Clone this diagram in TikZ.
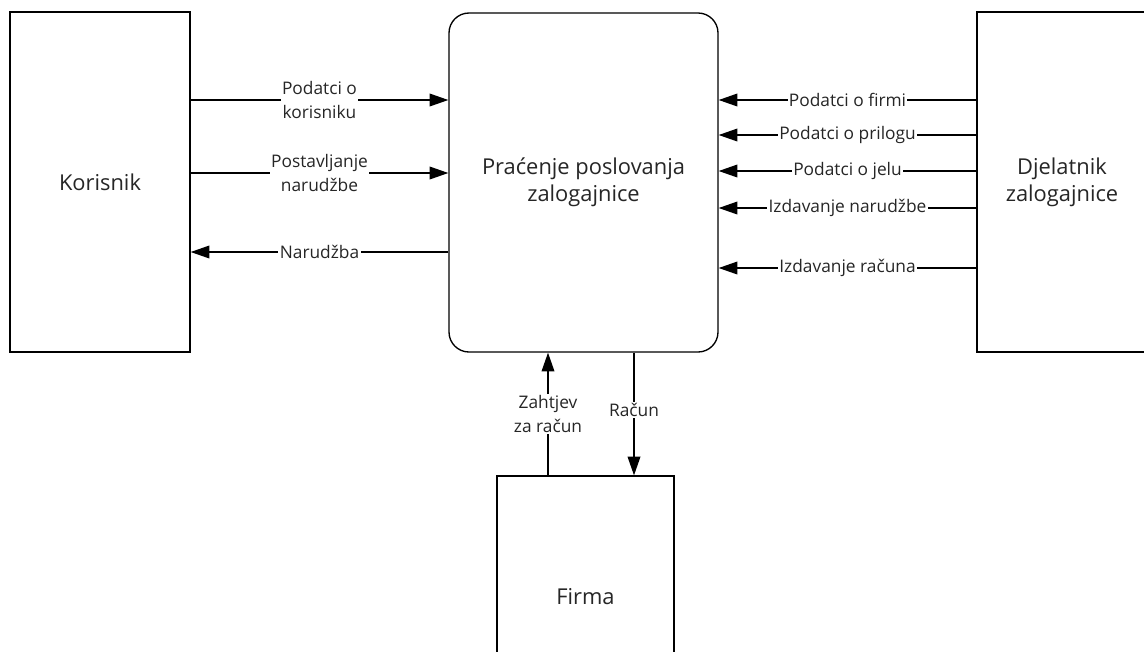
\documentclass[tikz,border=0pt]{standalone}
\usepackage{fontspec}
\setmainfont{Open Sans}
\usetikzlibrary{arrows.meta,positioning}

\tikzset{
  blok/.style={draw, line width=1pt, fill=white, align=center, text=black!85,
    font=\fontsize{16.4}{20}\selectfont},
  proces/.style={blok, rounded corners=15pt},
  tok/.style={line width=1pt, -{Triangle[length=14pt,width=9.5pt]}},
  oznaka/.style={fill=white, inner sep=1pt, align=center, text=black!85,
    font=\fontsize{13}{18.5}\selectfont},
}

\begin{document}
\begin{tikzpicture}[x=0.75pt,y=-0.75pt]
\useasboundingbox (0,0) rectangle (1144,651);
% vanjski entiteti i proces
\node[blok, minimum width=135pt, minimum height=255pt] (korisnik) at (100,182) {Korisnik};
\node[proces, minimum width=201.75pt, minimum height=254.25pt] (sustav) at (583.5,182.5) {Praćenje poslovanja\\zalogajnice};
\node[blok, minimum width=127.5pt, minimum height=255pt] (djelatnik) at (1062,182) {Djelatnik\\zalogajnice};
\node[blok, minimum width=132.75pt, minimum height=181.5pt] (firma) at (585.5,597) {Firma};
%
\draw[tok] (korisnik.east |- 0,100) -- (sustav.west |- 0,100) node[oznaka, midway] {Podatci o\\korisniku};
\draw[tok] (korisnik.east |- 0,173) -- (sustav.west |- 0,173) node[oznaka, midway] {Postavljanje\\narudžbe};
\draw[tok] (sustav.west |- 0,252) -- (korisnik.east |- 0,252) node[oznaka, midway] {Narudžba};
%
\foreach \y/\tekst in {100/Podatci o firmi, 135/Podatci o prilogu, 171/Podatci o jelu,
  208/Izdavanje narudžbe, 268/Izdavanje računa}
  \draw[tok] (djelatnik.west |- 0,\y) -- (sustav.east |- 0,\y) node[oznaka, midway] {\tekst};
%
\draw[tok] (firma.north -| 548,0) -- (sustav.south -| 548,0) node[oznaka, midway] {Zahtjev\\za račun};
\draw[tok] (sustav.south -| 634,0) -- (firma.north -| 634,0) node[oznaka, pos=0.47] {Račun};
\end{tikzpicture}
\end{document}
